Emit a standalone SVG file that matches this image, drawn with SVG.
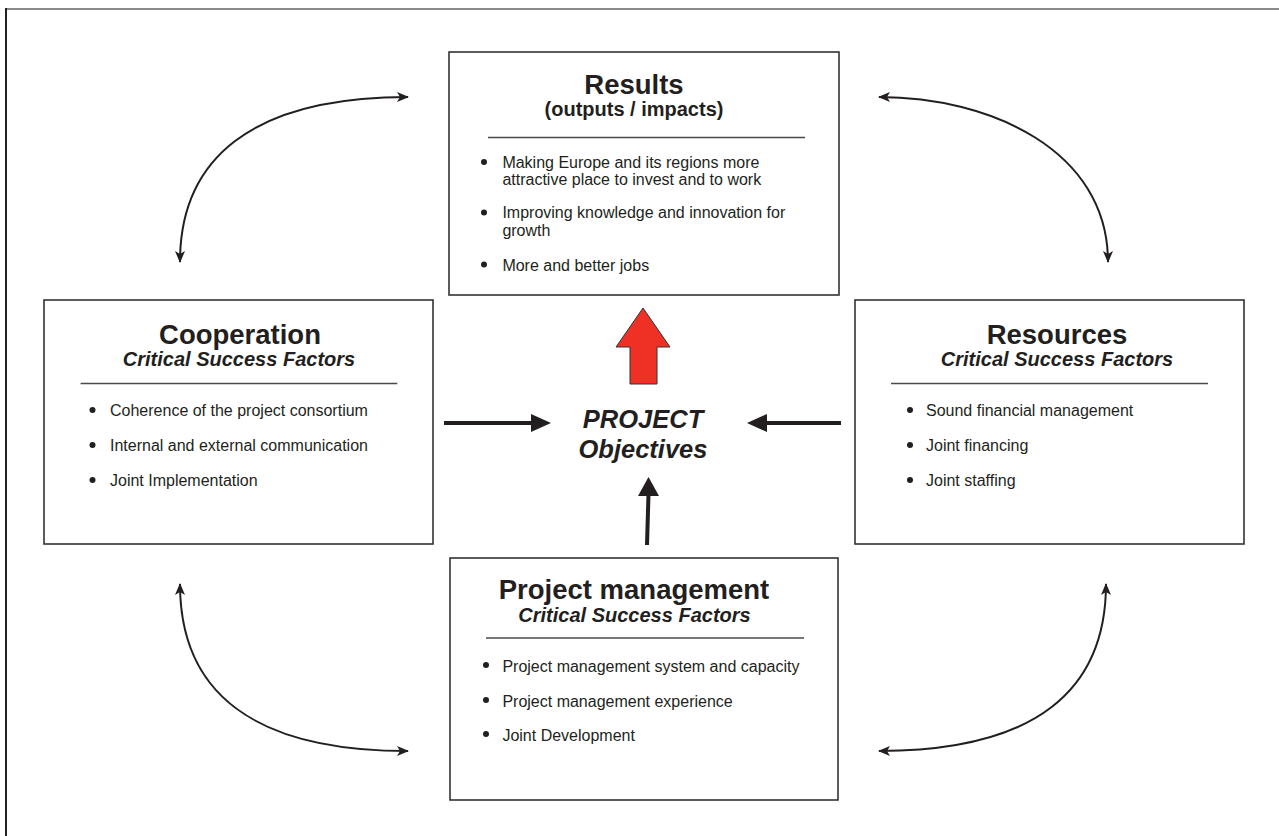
<svg xmlns="http://www.w3.org/2000/svg" width="1279" height="836" viewBox="0 0 1279 836">
  <style>
    text { font-family: "Liberation Sans", Arial, sans-serif; fill: #231f20; }
    .title { font-size: 27.5px; font-weight: bold; text-anchor: middle; }
    .sub { font-size: 20px; font-weight: bold; font-style: italic; text-anchor: middle; }
    .subn { font-size: 20px; font-weight: bold; text-anchor: middle; }
    .item { font-size: 16px; }
    .box { fill: #ffffff; stroke: #333333; stroke-width: 1.6; }
    .sep { stroke: #4a4a4a; stroke-width: 1.4; }
    .dot { fill: #231f20; }
    .obj { font-size: 25.5px; font-weight: bold; font-style: italic; text-anchor: middle; }
    .curve { fill: none; stroke: #231f20; stroke-width: 2; marker-start: url(#smallHead); marker-end: url(#smallHead); }
    .thick { fill: none; stroke: #231f20; stroke-width: 4; }
    .head { fill: #231f20; }
  </style>
  <defs>
    <marker id="smallHead" viewBox="0 0 12 10" refX="11" refY="5" markerWidth="12" markerHeight="10" markerUnits="userSpaceOnUse" orient="auto-start-reverse">
      <path d="M0,0 L12,5 L0,10 L3,5 z" fill="#231f20"/>
    </marker>
  </defs>

  <rect x="0" y="0" width="1279" height="836" fill="#ffffff"/>

  <g id="frame">
    <line x1="5" y1="9" x2="1279" y2="9" stroke="#8a8a8a" stroke-width="2"/>
    <line x1="6" y1="8" x2="6" y2="836" stroke="#222222" stroke-width="2"/>
  </g>

  <g id="connectors">
    <path class="curve" d="M 180 262 C 180 160, 250 97, 408 97"/>
    <path class="curve" d="M 879 97 C 990 97, 1108 150, 1108 262"/>
    <path class="curve" d="M 180 584 C 180 690, 250 751, 408 751"/>
    <path class="curve" d="M 1106 584 C 1106 690, 1036 751, 879 751"/>

    <line class="thick" x1="444" y1="423" x2="534" y2="423"/>
    <polygon class="head" points="531,414 551,423 531,432"/>
    <line class="thick" x1="841" y1="423" x2="764" y2="423"/>
    <polygon class="head" points="767,414 747,423 767,432"/>
    <line class="thick" x1="647" y1="545" x2="648.5" y2="494" stroke-width="3.6"/>
    <polygon class="head" points="638,496 648.5,477 659,496"/>

    <polygon id="redArrow" points="643,308 670,347 657,347 657,384 630,384 630,347 616,347" fill="#ee3124" stroke="#333333" stroke-width="1"/>
  </g>

  <g id="results">
    <rect class="box" x="449" y="52" width="390" height="243"/>
    <text class="title" x="634" y="94">Results</text>
    <text class="subn" x="634" y="116">(outputs / impacts)</text>
    <line class="sep" x1="488" y1="137.5" x2="805" y2="137.5"/>
    <circle class="dot" cx="484" cy="162" r="3"/>
    <text class="item" x="502.4" y="167.5">Making Europe and its regions more</text>
    <text class="item" x="502.4" y="185">attractive place to invest and to work</text>
    <circle class="dot" cx="484" cy="212.5" r="3"/>
    <text class="item" x="502.4" y="218">Improving knowledge and innovation for</text>
    <text class="item" x="502.4" y="235.5">growth</text>
    <circle class="dot" cx="484" cy="264.5" r="3"/>
    <text class="item" x="502.4" y="270.5">More and better jobs</text>
  </g>

  <g id="cooperation">
    <rect class="box" x="44" y="300" width="389" height="244"/>
    <text class="title" x="240" y="344">Cooperation</text>
    <text class="sub" x="239" y="366">Critical Success Factors</text>
    <line class="sep" x1="80.6" y1="383.5" x2="397.3" y2="383.5"/>
    <circle class="dot" cx="92.5" cy="410" r="3"/>
    <text class="item" x="110" y="416">Coherence of the project consortium</text>
    <circle class="dot" cx="92.5" cy="445" r="3"/>
    <text class="item" x="110" y="451">Internal and external communication</text>
    <circle class="dot" cx="92.5" cy="480" r="3"/>
    <text class="item" x="110" y="486">Joint Implementation</text>
  </g>

  <g id="resources">
    <rect class="box" x="855" y="300" width="389" height="244"/>
    <text class="title" x="1057" y="343.5">Resources</text>
    <text class="sub" x="1057" y="366">Critical Success Factors</text>
    <line class="sep" x1="891" y1="383.5" x2="1208" y2="383.5"/>
    <circle class="dot" cx="910" cy="410" r="3"/>
    <text class="item" x="926" y="416">Sound financial management</text>
    <circle class="dot" cx="910" cy="445" r="3"/>
    <text class="item" x="926" y="451">Joint financing</text>
    <circle class="dot" cx="910" cy="480" r="3"/>
    <text class="item" x="926" y="486">Joint staffing</text>
  </g>

  <g id="project-management">
    <rect class="box" x="450" y="558" width="388" height="242"/>
    <text class="title" x="634" y="599">Project management</text>
    <text class="sub" x="634.5" y="622">Critical Success Factors</text>
    <line class="sep" x1="486" y1="638" x2="804" y2="638"/>
    <circle class="dot" cx="486" cy="665" r="3"/>
    <text class="item" x="502.4" y="672">Project management system and capacity</text>
    <circle class="dot" cx="486" cy="700" r="3"/>
    <text class="item" x="502.4" y="707">Project management experience</text>
    <circle class="dot" cx="486" cy="734" r="3"/>
    <text class="item" x="502.4" y="741">Joint Development</text>
  </g>

  <g id="objectives">
    <text class="obj" x="643" y="428">PROJECT</text>
    <text class="obj" x="643" y="458">Objectives</text>
  </g>
</svg>
